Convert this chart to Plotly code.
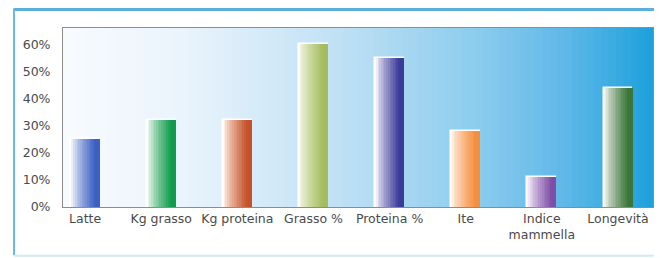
import plotly.graph_objects as go

categories = ["Latte", "Kg grasso", "Kg proteina", "Grasso %", "Proteina %", "Ite",
              "Indice<br>mammella", "Longevità"]
values = [25, 32, 32, 60, 55, 28, 11, 44]
tick_values = [0, 10, 20, 30, 40, 50, 60]
tick_labels = ["0%", "10%", "20%", "30%", "40%", "50%", "60%"]

# gradient end colours (left light -> right dark) for each bar
light_colors = [(236, 239, 250), (232, 246, 236), (252, 236, 226), (240, 244, 222),
                (238, 236, 248), (254, 236, 222), (240, 230, 246), (238, 240, 234)]
dark_colors = [(58, 96, 196), (16, 156, 76), (196, 82, 40), (164, 188, 92),
               (58, 58, 152), (246, 142, 62), (126, 78, 166), (58, 118, 56)]

bg_stops = [(0.0, (248, 251, 254)), (0.2, (234, 244, 252)), (0.45, (196, 226, 245)),
            (0.7, (140, 204, 238)), (0.85, (96, 184, 232)), (1.0, (28, 160, 218))]


def lerp(c1, c2, t):
    return tuple(int(round(a + (b - a) * t)) for a, b in zip(c1, c2))


def rgb(c):
    return "rgb(%d,%d,%d)" % c


def bg_color(t):
    for (t0, c0), (t1, c1) in zip(bg_stops[:-1], bg_stops[1:]):
        if t0 <= t <= t1:
            return lerp(c0, c1, (t - t0) / (t1 - t0))
    return bg_stops[-1][1]


fig = go.Figure()

bar_w = 0.36
n_slices = 16
x_idx = list(range(len(categories)))

# white outline base bar
fig.add_trace(go.Bar(
    x=x_idx, y=values, width=bar_w + 0.02,
    marker=dict(color="rgba(255,255,255,0.9)", line=dict(color="white", width=1.5)),
    hoverinfo="skip", showlegend=False))

step = bar_w / n_slices
for k in range(n_slices):
    t = k / (n_slices - 1)
    tt = min(1.0, t ** 0.8 * 1.1)
    cols = [rgb(lerp(l, d, tt)) for l, d in zip(light_colors, dark_colors)]
    fig.add_trace(go.Bar(
        x=x_idx, y=values, width=step * 1.5, offset=-bar_w / 2 + k * step,
        marker=dict(color=cols, line=dict(width=0)),
        hoverinfo="skip", showlegend=False))

shapes = []
n_bg = 80
for i in range(n_bg):
    t = (i + 0.5) / n_bg
    shapes.append(dict(type="rect", xref="x domain", yref="y domain",
                       x0=i / n_bg, x1=(i + 1.3) / n_bg if i < n_bg - 1 else 1.0,
                       y0=0, y1=1, fillcolor=rgb(bg_color(t)),
                       line=dict(width=0), layer="below"))

# outer frame lines (paper coords relative to plot area)
shapes.append(dict(type="line", xref="paper", yref="paper", x0=-0.083, x1=1.05,
                   y0=1.103, y1=1.103, line=dict(color="#5aaee0", width=3)))
shapes.append(dict(type="line", xref="paper", yref="paper", x0=-0.083, x1=-0.083,
                   y0=1.11, y1=-0.27, line=dict(color="#6ab8e4", width=2)))
shapes.append(dict(type="line", xref="paper", yref="paper", x0=-0.083, x1=1.05,
                   y0=-0.272, y1=-0.272, line=dict(color="#cfe9f8", width=2)))

fig.update_layout(
    width=654, height=250,
    margin=dict(l=55, r=9, t=20, b=51),
    paper_bgcolor="white",
    plot_bgcolor="white",
    barmode="overlay",
    bargap=0,
    shapes=shapes,
    font=dict(family="DejaVu Sans", size=12.5, color="#4a4a4a"),
    showlegend=False,
)
fig.update_xaxes(
    tickmode="array", tickvals=x_idx, ticktext=categories,
    range=[-0.29, 7.46], showgrid=False, zeroline=False,
    showline=True, linecolor="#8c8c8c", linewidth=1, mirror=True,
    ticks="", tickfont=dict(size=12.5, color="#4a4a4a"),
)
fig.update_yaxes(
    range=[0, 66], tickmode="array", tickvals=tick_values, ticktext=tick_labels,
    showgrid=False, zeroline=False,
    showline=True, linecolor="#8c8c8c", linewidth=1, mirror=True,
    ticks="outside", ticklen=9, tickcolor="rgba(0,0,0,0)",
    tickfont=dict(size=12.5, color="#4a4a4a"),
)

fig.write_html("out.html")
